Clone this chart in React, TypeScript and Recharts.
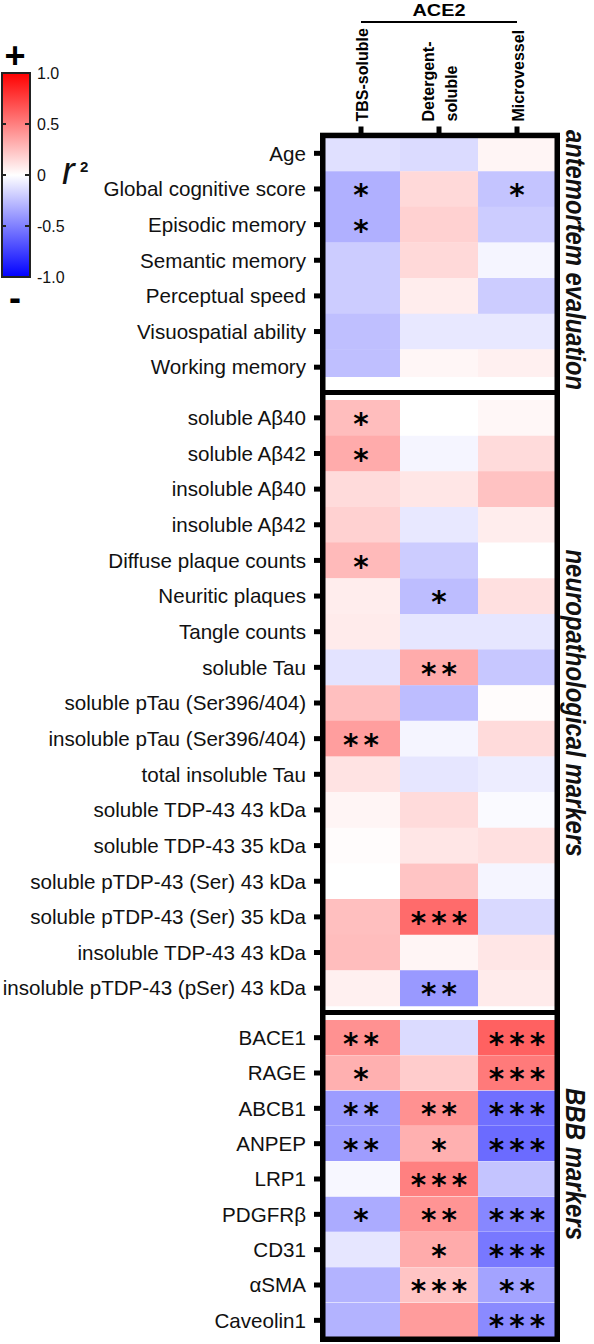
import { BarChart, Bar, XAxis, YAxis, Cell, LabelList } from 'recharts'

const FONT = "'Liberation Sans', Arial, Helvetica, sans-serif"

// column headers (ACE2 fractions)
const columnLabels = ['TBS-soluble', 'Detergent-\nsoluble', 'Microvessel']
const columnKeys = ['tbs', 'det', 'micro']

// antemortem evaluation
const antemortemRows = ['Age', 'Global cognitive score', 'Episodic memory', 'Semantic memory', 'Perceptual speed', 'Visuospatial ability', 'Working memory']
const antemortemTbs = [-0.12, -0.31, -0.31, -0.2, -0.2, -0.25, -0.25]
const antemortemDet = [-0.14, 0.15, 0.18, 0.15, 0.07, -0.09, 0.035]
const antemortemMicro = [0.04, -0.23, -0.2, -0.04, -0.2, -0.09, 0.06]
const antemortemTbsSig = ['', '*', '*', '', '', '', '']
const antemortemDetSig = ['', '', '', '', '', '', '']
const antemortemMicroSig = ['', '*', '', '', '', '', '']

// neuropathological markers
const neuroRows = [
  'soluble Aβ40', 'soluble Aβ42', 'insoluble Aβ40', 'insoluble Aβ42', 'Diffuse plaque counts',
  'Neuritic plaques', 'Tangle counts', 'soluble Tau', 'soluble pTau (Ser396/404)',
  'insoluble pTau (Ser396/404)', 'total insoluble Tau', 'soluble TDP-43 43 kDa',
  'soluble TDP-43 35 kDa', 'soluble pTDP-43 (Ser) 43 kDa', 'soluble pTDP-43 (Ser) 35 kDa',
  'insoluble TDP-43 43 kDa', 'insoluble pTDP-43 (pSer) 43 kDa'
]
const neuroTbs = [0.26, 0.33, 0.14, 0.18, 0.27, 0.07, 0.08, -0.11, 0.25, 0.38, 0.11, 0.04, 0.01, 0, 0.25, 0.26, 0.06]
const neuroDet = [0, -0.04, 0.1, -0.09, -0.2, -0.26, -0.1, 0.33, -0.26, -0.04, -0.1, 0.14, 0.1, 0.23, 0.58, 0.04, -0.4]
const neuroMicro = [0.03, 0.14, 0.24, 0.07, 0, 0.12, -0.1, -0.22, 0.01, 0.14, -0.07, -0.02, 0.12, -0.04, -0.15, 0.1, 0.08]
const neuroTbsSig = ['*', '*', '', '', '*', '', '', '', '', '**', '', '', '', '', '', '', '']
const neuroDetSig = ['', '', '', '', '', '*', '', '**', '', '', '', '', '', '', '***', '', '**']
const neuroMicroSig = ['', '', '', '', '', '', '', '', '', '', '', '', '', '', '', '', '']

// BBB markers
const bbbRows = ['BACE1', 'RAGE', 'ABCB1', 'ANPEP', 'LRP1', 'PDGFRβ', 'CD31', 'αSMA', 'Caveolin1']
const bbbTbs = [0.43, 0.31, -0.39, -0.39, -0.03, -0.33, -0.1, -0.3, -0.3]
const bbbDet = [-0.14, 0.2, 0.43, 0.31, 0.5, 0.42, 0.33, 0.23, 0.39]
const bbbMicro = [0.62, 0.52, -0.56, -0.58, -0.23, -0.47, -0.53, -0.36, -0.46]
const bbbTbsSig = ['**', '*', '**', '**', '', '*', '', '', '']
const bbbDetSig = ['', '', '**', '*', '***', '**', '*', '***', '']
const bbbMicroSig = ['***', '***', '***', '***', '', '***', '***', '**', '***']

// colour scale
const scaleTicks = [1, 0.5, 0, -0.5, -1]
const scaleBar = [{ name: 'r2', range: [-1, 1] }]

function buildRows(labels, tbs, det, micro, tbsSig, detSig, microSig) {
  return labels.map((label, i) => ({
    label,
    tbs: tbs[i], det: det[i], micro: micro[i],
    tbsSig: tbsSig[i], detSig: detSig[i], microSig: microSig[i]
  }))
}

const antemortemData = buildRows(antemortemRows, antemortemTbs, antemortemDet, antemortemMicro, antemortemTbsSig, antemortemDetSig, antemortemMicroSig)
const neuroData = buildRows(neuroRows, neuroTbs, neuroDet, neuroMicro, neuroTbsSig, neuroDetSig, neuroMicroSig)
const bbbData = buildRows(bbbRows, bbbTbs, bbbDet, bbbMicro, bbbTbsSig, bbbDetSig, bbbMicroSig)

function heatColor(r: number) {
  const c = Math.round(255 * (1 - Math.min(1, Math.abs(r))))
  return r >= 0 ? `rgb(255,${c},${c})` : `rgb(${c},${c},255)`
}

function Stars(props: any) {
  const { x, y, width, height, value } = props
  if (!value) return null
  return (
    <text x={x + width / 2 + 2.5} y={y + height / 2 + 16} textAnchor="middle" letterSpacing={5}
      fontFamily="'DejaVu Sans', sans-serif" fontSize={29.5} fontWeight={700} fill="#000">
      {value}
    </text>
  )
}

function ColumnTick(props: any) {
  const { x, y, payload } = props
  const lines = columnLabels[Math.floor(payload.value)].split('\n')
  return (
    <g>
      {lines.map((line, i) => (
        <text key={i}
          transform={`translate(${x + 1 + (i - (lines.length - 1) / 2) * 23},${y}) rotate(-90)`}
          textAnchor="start" dominantBaseline="central"
          fontFamily={FONT} fontSize={16} fontWeight={700} fill="#000">
          {line}
        </text>
      ))}
    </g>
  )
}

function ScaleTick(props: any) {
  const { x, y, payload } = props
  const v = payload.value
  return (
    <g>
      <line x1={x - 5} x2={x} y1={y} y2={y} stroke="#222" strokeWidth={2} />
      <line x1={x - 28} x2={x - 24} y1={y} y2={y} stroke="#222" strokeWidth={2} />
      <text x={x + 7} y={y} dominantBaseline="central" fontFamily={FONT} fontSize={16} fill="#111">
        {v === 0 ? '0' : v.toFixed(1)}
      </text>
    </g>
  )
}

function HeatGroup({ rows, height, header }: { rows: any[]; height: number; header?: boolean }) {
  const topPad = header ? 135.5 : 0
  const bottomPad = 20
  return (
    <BarChart width={594} height={height + topPad + bottomPad} data={rows} layout="vertical"
      margin={{ top: 0, right: 38, bottom: bottomPad, left: 0 }} barCategoryGap={0} barGap={0}>
      <XAxis type="number" domain={[0, 3]} hide={!header} orientation="top" height={topPad}
        ticks={[0.5, 1.5, 2.5]} axisLine={false}
        tickLine={{ stroke: '#000', strokeWidth: 5 }} tickSize={9} tickMargin={5}
        tick={<ColumnTick />} />
      <YAxis type="category" dataKey="label" width={322} axisLine={false} interval={0}
        tickLine={{ stroke: '#000', strokeWidth: 5 }} tickSize={8} tickMargin={8}
        tick={{ fontSize: 20.6, fill: '#111', fontFamily: FONT }} />
      {columnKeys.map((key) => (
        <Bar key={key} dataKey={() => 1} stackId="cells" isAnimationActive={false}>
          {rows.map((row, i) => (
            <Cell key={i} fill={heatColor(row[key])} />
          ))}
          <LabelList dataKey={`${key}Sig`} content={<Stars />} />
        </Bar>
      ))}
    </BarChart>
  )
}

function SideLabel({ x, y, length, children }) {
  return (
    <text transform={`translate(${x},${y}) rotate(90)`} textAnchor="middle"
      textLength={length} lengthAdjust="spacingAndGlyphs"
      fontFamily={FONT} fontSize={28} fontWeight={700} fontStyle="italic" fill="#111">
      {children}
    </text>
  )
}

export default function App() {
  return (
    <div style={{ position: 'absolute', left: 0, top: 0, width: 594, height: 1344, background: '#fff', overflow: 'hidden' }}>
      <div style={{ position: 'absolute', left: 0, top: 0 }}>
        <HeatGroup rows={antemortemData} height={249.5} header />
      </div>
      <div style={{ position: 'absolute', left: 0, top: 400 }}>
        <HeatGroup rows={neuroData} height={606} />
      </div>
      <div style={{ position: 'absolute', left: 0, top: 1020 }}>
        <HeatGroup rows={bbbData} height={318} />
      </div>

      <div style={{ position: 'absolute', left: 0, top: 0 }}>
        <BarChart width={140} height={300} data={scaleBar}
          margin={{ top: 73, right: 50, bottom: 23, left: 2 }} barCategoryGap={0}>
          <defs>
            <linearGradient id="rb" x1="0" y1="0" x2="0" y2="1">
              <stop offset="0%" stopColor="#ff0000" />
              <stop offset="50%" stopColor="#ffffff" />
              <stop offset="100%" stopColor="#0000ff" />
            </linearGradient>
          </defs>
          <XAxis dataKey="name" hide />
          <YAxis orientation="right" type="number" domain={[-1, 1]} ticks={scaleTicks} width={60}
            axisLine={false} tickLine={false} tickSize={0} tickMargin={0} tick={<ScaleTick />} />
          <Bar dataKey="range" fill="url(#rb)" stroke="#222" strokeWidth={2} isAnimationActive={false} />
        </BarChart>
      </div>

      <svg width={594} height={1344} style={{ position: 'absolute', left: 0, top: 0, pointerEvents: 'none' }}>
        {/* legend decorations */}
        <text x={15} y={55} textAnchor="middle" dominantBaseline="central" fontFamily={FONT} fontSize={36} fontWeight={700}>+</text>
        <text x={15} y={297} textAnchor="middle" dominantBaseline="central" fontFamily={FONT} fontSize={36} fontWeight={700}>-</text>
        <text x={62} y={184} fontFamily={FONT} fontSize={38} fontStyle="italic" fill="#111">r</text>
        <text x={80} y={172} fontFamily={FONT} fontSize={15} fontWeight={700} fill="#111">2</text>

        {/* ACE2 bracket */}
        <text x={439} y={16} textAnchor="middle" textLength={53} lengthAdjust="spacingAndGlyphs"
          fontFamily={FONT} fontSize={17} fontWeight={700}>ACE2</text>
        <line x1={361} x2={517} y1={22} y2={22} stroke="#000" strokeWidth={2} />

        {/* frame and group separators */}
        <rect x={325} y={377} width={230} height={13} fill="#fff" />
        <rect x={320} y={390} width={240} height={5} fill="#000" />
        <rect x={320} y={1010} width={240} height={5} fill="#000" />
        <rect x={322.75} y={135.45} width={234.5} height={1203.8} fill="none" stroke="#000" strokeWidth={5.5} />

        <SideLabel x={566} y={260} length={260}>antemortem evaluation</SideLabel>
        <SideLabel x={566} y={703} length={307}>neuropathological markers</SideLabel>
        <SideLabel x={566} y={1164} length={152}>BBB markers</SideLabel>
      </svg>
    </div>
  )
}
